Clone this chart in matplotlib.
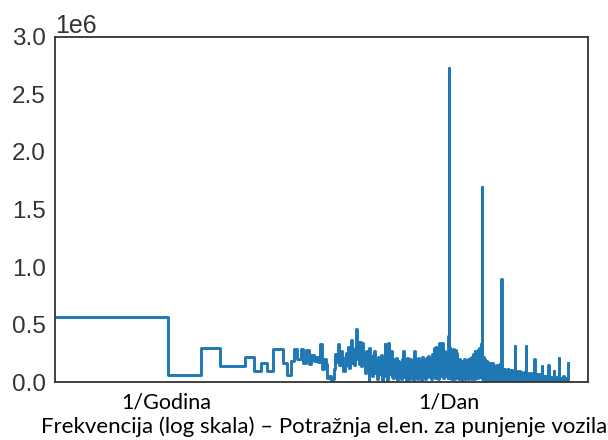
import numpy as np
import matplotlib
matplotlib.use("Agg")
import matplotlib.pyplot as plt

# ---- data: FFT magnitude (in millions) vs frequency index k ----
years_per_dataset = 352 * 24 / (24 * 365.2524)   # dataset length in years

# low frequencies: every index
k_low = list(range(1, 41))
mag_low = [0.571, 0.065, 0.296, 0.146, 0.146, 0.224, 0.100, 0.166, 0.100, 0.290,
           0.290, 0.170, 0.065, 0.190, 0.290, 0.200, 0.290, 0.170, 0.280, 0.160,
           0.240, 0.190, 0.220, 0.180, 0.330, 0.120, 0.200, 0.160, 0.040, 0.060,
           0.010, 0.030, 0.120, 0.250, 0.180, 0.330, 0.150, 0.270, 0.220, 0.100]

# mid frequencies up to the daily peak
k_mid = [41, 42, 43, 44, 45, 46, 47, 48, 49, 50, 51, 52, 53, 54, 55, 56, 57, 58, 59, 60,
         61, 62, 63, 64, 65, 66, 67, 68, 70, 71, 73, 74, 76, 77, 79, 80, 82, 84, 85, 87,
         89, 91, 93, 94, 96, 97, 99, 101, 103, 105, 107, 109, 111, 113, 115, 118, 120, 122,
         125, 128, 130, 133, 135, 137, 140, 143, 146, 149, 152, 155, 158, 161, 164, 168,
         171, 174, 177, 181, 185, 189, 193, 197, 201, 205, 209, 213, 218, 222, 227, 231,
         236, 241, 246, 251, 256, 261, 264, 267, 272, 277, 283, 289, 295, 301, 307, 313,
         319, 325, 332, 338, 343, 346, 348, 349, 350, 351]
mag_mid = [0.14, 0.26, 0.16, 0.31, 0.13, 0.22, 0.37, 0.17, 0.28, 0.15, 0.30, 0.46, 0.20,
           0.35, 0.16, 0.35, 0.14, 0.22, 0.34, 0.15, 0.25, 0.08, 0.18, 0.27, 0.10, 0.20,
           0.02, 0.30, 0.10, 0.22, 0.06, 0.24, 0.27, 0.08, 0.19, 0.03, 0.22, 0.07, 0.18,
           0.24, 0.01, 0.20, 0.08, 0.33, 0.06, 0.21, 0.02, 0.34, 0.07, 0.22, 0.27, 0.05,
           0.20, 0.04, 0.18, 0.06, 0.21, 0.02, 0.19, 0.05, 0.17, 0.03, 0.20, 0.27, 0.05,
           0.18, 0.02, 0.21, 0.06, 0.17, 0.03, 0.20, 0.05, 0.19, 0.02, 0.27, 0.06, 0.18,
           0.03, 0.21, 0.05, 0.19, 0.02, 0.22, 0.06, 0.18, 0.03, 0.21, 0.05, 0.23, 0.06,
           0.20, 0.03, 0.25, 0.06, 0.22, 0.30, 0.04, 0.31, 0.07, 0.24, 0.03, 0.34, 0.06,
           0.26, 0.34, 0.04, 0.27, 0.07, 0.24, 0.05, 0.30, 0.04, 0.35, 0.40, 0.52]

# daily peak up to the second harmonic
k_day = [352, 353, 354, 355, 356, 358, 360, 365, 370, 376, 382, 388, 394, 400, 406, 412,
         418, 424, 431, 438, 445, 452, 459, 466, 473, 481, 489, 497, 505, 513, 521, 530,
         538, 547, 556, 565, 574, 583, 593, 602, 612, 622, 632, 642, 652, 663, 674, 684,
         692, 698, 701, 702, 703, 704, 705, 706, 707]
mag_day = [2.73, 0.66, 0.45, 0.20, 0.36, 0.05, 0.30, 0.04, 0.28, 0.03, 0.27, 0.05, 0.29,
           0.03, 0.28, 0.06, 0.26, 0.04, 0.19, 0.03, 0.20, 0.05, 0.18, 0.02, 0.19, 0.04,
           0.20, 0.03, 0.18, 0.05, 0.19, 0.03, 0.20, 0.04, 0.21, 0.03, 0.22, 0.05, 0.25,
           0.03, 0.27, 0.05, 0.25, 0.04, 0.28, 0.06, 0.30, 0.05, 0.33, 0.08, 0.36, 0.28,
           0.37, 1.70, 0.33, 0.28, 0.06]

# higher frequencies up to Nyquist
k_high = [710, 716, 727, 738, 750, 762, 774, 786, 799, 811, 824, 838, 851, 865, 879, 893,
          907, 922, 937, 952, 967, 983, 999, 1015, 1031, 1045, 1052, 1055, 1056, 1057,
          1060, 1070, 1088, 1105, 1123, 1141, 1160, 1178, 1197, 1217, 1236, 1256, 1277,
          1297, 1318, 1340, 1361, 1383, 1400, 1406, 1408, 1410, 1430, 1453, 1477, 1501,
          1525, 1550, 1575, 1600, 1626, 1652, 1679, 1706, 1733, 1755, 1760, 1765, 1790,
          1819, 1848, 1878, 1908, 1939, 1970, 2002, 2034, 2067, 2100, 2112, 2120, 2150,
          2185, 2220, 2256, 2292, 2329, 2366, 2404, 2443, 2464, 2480, 2520, 2560, 2601,
          2643, 2685, 2728, 2772, 2800, 2816, 2830, 2876, 2922, 2969, 3017, 3065, 3114,
          3150, 3168, 3180, 3231, 3283, 3336, 3389, 3443, 3500, 3520, 3530, 3587, 3644,
          3703, 3762, 3822, 3872, 3884, 3946, 4009, 4073, 4138, 4190, 4224]
mag_high = [0.25, 0.03, 0.22, 0.02, 0.20, 0.04, 0.19, 0.02, 0.18, 0.03, 0.17, 0.01, 0.16,
            0.03, 0.17, 0.02, 0.15, 0.01, 0.14, 0.03, 0.15, 0.02, 0.14, 0.01, 0.16, 0.03,
            0.18, 0.20, 0.90, 0.17, 0.02, 0.13, 0.01, 0.12, 0.02, 0.12, 0.01, 0.11, 0.02,
            0.12, 0.01, 0.10, 0.02, 0.11, 0.01, 0.10, 0.02, 0.11, 0.01, 0.12, 0.32, 0.09,
            0.01, 0.10, 0.02, 0.09, 0.01, 0.10, 0.02, 0.09, 0.01, 0.08, 0.02, 0.09, 0.01,
            0.08, 0.32, 0.08, 0.01, 0.08, 0.02, 0.07, 0.01, 0.08, 0.02, 0.07, 0.01, 0.08,
            0.02, 0.20, 0.07, 0.01, 0.07, 0.02, 0.07, 0.01, 0.06, 0.02, 0.07, 0.01, 0.14,
            0.06, 0.01, 0.06, 0.02, 0.06, 0.01, 0.06, 0.02, 0.05, 0.15, 0.05, 0.01, 0.05,
            0.02, 0.05, 0.01, 0.05, 0.02, 0.10, 0.05, 0.01, 0.05, 0.02, 0.04, 0.01, 0.05,
            0.21, 0.04, 0.01, 0.04, 0.02, 0.04, 0.01, 0.06, 0.04, 0.01, 0.04, 0.02, 0.04,
            0.01, 0.17]

tick_freqs = [1, 365.2524]
tick_labels = ["1/Godina", "1/Dan"]
xlabel_text = "Frekvencija (log skala) \u2013 Potra\u017enja el.en. za punjenje vozila"

# ---- assemble ----
k_all = np.array([0] + k_low + k_mid + k_day + k_high, dtype=float)
mag_all = np.array([0.571] + mag_low + mag_mid + mag_day + mag_high) * 1e6
f_per_year = k_all / years_per_dataset

# ---- figure ----
plt.rcParams["font.family"] = ["Liberation Sans", "DejaVu Sans"]
fig = plt.figure(figsize=(6.08, 4.40), dpi=100)
ax = fig.add_axes([0.0911, 0.1307, 0.8760, 0.7859])

ax.step(f_per_year, mag_all, where="pre", color="#1f77b4", lw=2.1)
ax.set_xscale("log")
ax.set_ylim(0, 3.0e6)
ax.set_xlim(0.1, 6650)
ax.set_yticks(np.arange(0, 3.01e6, 0.5e6))
ax.ticklabel_format(axis="y", style="sci", scilimits=(0, 0), useMathText=False)
ax.yaxis.get_offset_text().set_fontsize(18)
ax.yaxis.get_offset_text().set_color("#333333")

ax.set_xticks(tick_freqs)
ax.set_xticklabels(tick_labels, fontfamily="Lato", fontsize=15.5, color="black")
ax.xaxis.set_minor_locator(matplotlib.ticker.NullLocator())
ax.tick_params(axis="x", length=0, pad=7)
ax.tick_params(axis="y", length=0, pad=7, labelsize=17.5, labelcolor="#333333")

for s in ax.spines.values():
    s.set_color("#333333")
    s.set_linewidth(1.3)

fig.text(324 / 608, 1 - 427 / 440, xlabel_text, ha="center", va="center",
         fontfamily="Lato", fontsize=16, color="black")

fig.savefig("out.png", dpi=100)
